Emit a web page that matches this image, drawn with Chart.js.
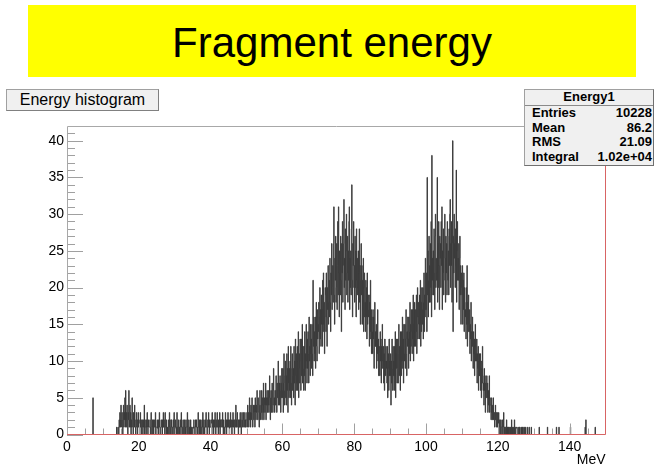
<!DOCTYPE html>
<html>
<head>
<meta charset="utf-8">
<title>Fragment energy</title>
<script src="https://cdn.jsdelivr.net/npm/chart.js@4.4.1/dist/chart.umd.min.js"></script>
<style>
  html, body { margin: 0; padding: 0; background: #fff; }
  body { width: 654px; height: 465px; position: relative; overflow: hidden;
         font-family: "Liberation Sans", Arial, sans-serif; color: #000; }
  #plot { position: absolute; left: 0; top: 0; z-index: 1; }
  .banner { position: absolute; left: 28px; top: 5px; width: 608px; height: 72px;
            background: #ffff00; text-align: center; font-size: 42px; line-height: 75px;
            overflow: visible; z-index: 2; }
  .htitle { position: absolute; left: 6px; top: 89px; width: 153px; height: 22px;
            box-sizing: border-box; border: 1px solid #a0a0a0; border-right-color: #808080;
            border-bottom-color: #808080; background: #f0f0f0; text-align: center;
            font-size: 16px; line-height: 20px; z-index: 2; white-space: nowrap; }
  .stats { position: absolute; left: 524px; top: 89px; width: 130px; height: 77px;
           box-sizing: border-box; border: 1px solid #a0a0a0; border-right-color: #707070;
           border-bottom-color: #707070; background: #f0f0f0; z-index: 2;
           font-size: 13px; font-weight: bold; }
  .stats .st-title { position: absolute; left: 0; right: 0; top: 0; height: 14.7px;
                     line-height: 14.7px; text-align: center; }
  .stats .st-sep { position: absolute; left: 0; right: 0; top: 15px; height: 0;
                   border-top: 1px solid #8a8a8a; }
  .stats .st-row { position: absolute; left: 7px; right: 1px; height: 14.7px;
                   line-height: 14.7px; display: flex; justify-content: space-between;
                   white-space: nowrap; }
</style>
</head>
<body>
<canvas id="plot" width="654" height="465"></canvas>
<div class="banner">Fragment energy</div>
<div class="htitle">Energy histogram</div>
<div class="stats">
  <div class="st-title">Energy1</div>
  <div class="st-sep"></div>
  <div class="st-row" style="top:16px"><span>Entries</span><span>10228</span></div>
  <div class="st-row" style="top:30.7px"><span>Mean</span><span>86.2</span></div>
  <div class="st-row" style="top:45.4px"><span>RMS</span><span>21.09</span></div>
  <div class="st-row" style="top:60.1px"><span>Integral</span><span>1.02e+04</span></div>
</div>
<script>
// Histogram "Energy1": counts per 0.1 MeV bin, one array per 10 MeV block.
const binWidth = 0.1;

const counts000 = [
  0,0,0,0,0,0,0,0,0,0,  0,0,0,0,0,0,0,0,0,0,
  0,0,0,0,0,0,0,0,0,0,  0,0,0,0,0,0,0,0,0,0,
  0,0,0,0,0,0,0,0,0,0,  0,0,0,0,0,0,0,0,0,0,
  0,0,0,0,0,0,0,0,0,0,  0,0,5,0,0,0,0,0,0,0,
  0,0,0,0,0,0,0,0,0,0,  0,0,0,0,0,0,0,0,0,0
];
const counts010 = [
  0,0,0,0,0,0,0,0,0,0,  0,0,0,0,0,0,0,0,0,0,
  0,0,0,0,0,0,0,0,0,0,  0,0,0,0,0,0,0,0,1,0,
  0,0,1,0,0,2,1,3,1,2,  4,2,1,3,2,0,2,4,1,3,
  2,5,1,6,2,3,1,4,2,0,  3,2,6,1,2,4,1,3,0,2,
  1,5,2,1,0,3,2,1,4,2,  1,0,2,3,1,2,0,1,3,1
];
const counts020 = [
  2,1,0,1,3,1,2,0,1,2,  1,0,2,1,1,4,0,2,1,1,
  0,2,1,3,1,0,1,2,2,1,  1,1,0,2,3,1,0,1,2,0,
  2,0,1,1,2,1,3,0,1,1,  1,2,0,1,0,2,1,3,1,0,
  0,1,2,1,1,0,2,1,3,1,  2,1,0,3,1,1,0,2,1,0,
  1,0,1,2,0,3,1,1,0,2,  1,2,0,1,1,0,2,1,3,1
];
const counts030 = [
  0,1,2,1,0,1,3,0,1,1,  2,0,1,0,1,2,1,0,3,1,
  1,1,0,2,1,0,1,2,0,1,  0,2,1,1,0,3,1,0,1,2,
  1,0,1,0,2,1,0,1,1,0,  0,1,0,2,1,1,0,1,2,1,
  2,1,0,1,0,3,1,1,0,2,  1,0,2,1,1,0,2,1,3,0,
  1,2,1,0,1,2,1,3,1,1,  0,1,2,1,3,1,0,2,1,1
];
const counts040 = [
  1,2,1,0,3,1,1,2,0,1,  2,1,3,1,0,2,1,1,3,1,
  1,0,2,1,1,3,0,2,1,2,  2,1,1,3,1,0,2,1,1,0,
  1,3,1,2,0,1,2,1,3,1,  2,1,0,2,1,3,1,2,1,0,
  1,2,3,1,2,1,0,2,1,3,  4,1,2,1,3,2,1,0,2,1,
  2,1,3,1,2,0,1,3,2,1,  1,3,2,1,2,3,1,2,1,2
];
const counts050 = [
  2,3,1,4,2,3,1,2,5,2,  3,1,4,2,3,5,2,1,3,4,
  2,4,3,1,5,3,2,4,3,6,  3,2,5,4,3,1,4,6,3,2,
  4,3,6,2,5,4,3,7,2,4,  5,3,4,7,2,5,4,6,3,5,
  4,6,3,5,8,4,2,5,6,3,  5,7,4,3,6,9,4,5,3,6,
  6,4,8,5,3,7,5,6,10,4, 5,7,4,8,6,3,7,5,9,6
];
const counts060 = [
  5,9,3,7,11,6,4,8,10,5,       8,4,11,6,9,3,12,7,5,9,
  6,10,5,12,7,4,9,11,6,8,      9,5,12,7,10,4,13,8,6,11,
  7,12,6,10,14,5,9,11,7,13,    10,6,13,8,11,15,7,12,9,6,
  12,8,14,6,11,9,15,10,7,13,   9,14,11,7,16,10,12,8,15,11,
  13,9,15,11,8,21,12,16,10,14, 11,16,9,14,18,12,10,17,13,15
];
const counts070 = [
  14,18,11,16,20,13,17,12,19,15,  17,12,21,15,22,14,18,11,16,20,
  19,14,22,16,12,20,17,23,15,18,  21,16,24,18,14,22,19,26,17,20,
  23,18,26,31,19,15,24,21,27,18,  20,26,17,23,29,19,31,22,16,25,
  24,19,27,21,14,26,22,29,18,23,  26,32,20,24,17,28,21,25,30,19,
  22,27,18,25,21,29,31,17,24,20,  25,19,28,34,21,16,26,23,29,20
];
const counts080 = [
  23,18,27,20,25,16,28,21,19,24,  20,25,17,22,28,18,23,15,21,26,
  19,23,15,21,17,24,14,20,22,16,  18,14,21,16,20,13,22,15,19,17,
  16,19,12,18,14,21,13,17,11,16,  14,11,17,13,16,9,15,18,12,14,
  12,15,9,14,11,17,10,13,8,12,    11,8,14,10,13,7,12,9,15,10,
  9,12,7,11,6,13,10,8,12,9,       10,7,12,5,9,11,6,13,8,10
];
const counts090 = [
  8,11,4,10,7,13,9,6,12,8,        10,6,12,8,14,5,11,9,13,7,
  9,13,7,11,15,8,12,10,6,14,      12,8,14,10,16,9,13,7,15,11,
  10,15,9,13,17,11,8,14,12,16,    13,9,16,11,14,18,10,15,12,17,
  14,11,17,13,19,10,15,12,18,14,  12,17,14,19,11,16,20,13,15,18,
  16,13,19,15,21,12,18,14,20,17,  15,20,13,18,22,14,19,16,24,17
];
const counts100 = [
  17,22,14,35,19,25,16,21,27,18,  23,18,26,20,29,16,38,21,24,19,
  25,19,28,22,17,27,30,20,24,21,  22,35,18,26,20,29,23,17,27,24,
  26,20,29,23,31,17,25,22,28,19,  21,28,30,24,18,27,22,26,19,29,
  27,21,25,19,28,23,30,32,20,26,  23,29,18,26,40,14,27,22,30,24,
  26,20,28,23,36,18,25,29,21,24,  21,26,17,24,27,19,23,15,22,20
];
const counts110 = [
  19,23,15,21,17,22,14,20,18,16,  17,13,20,15,23,12,18,14,19,15,
  14,17,11,15,13,18,10,14,12,16,  12,9,14,11,13,8,12,15,10,11,
  10,13,7,11,9,12,6,10,8,11,      8,11,6,9,5,10,7,12,8,6,
  7,4,9,6,8,3,7,5,6,8,            5,7,3,6,4,5,8,3,5,4,
  4,2,5,3,4,2,3,5,2,3,            3,1,2,4,2,3,1,2,3,1
];
const counts120 = [
  2,1,3,0,1,2,1,0,2,1,  1,0,2,1,0,1,3,1,0,1,
  0,1,1,0,2,0,1,0,1,0,  1,0,0,1,0,1,0,0,2,0,
  0,1,0,0,1,0,2,0,1,0,  0,0,1,0,0,0,1,0,0,1,
  0,1,0,0,0,1,0,0,1,0,  1,0,0,0,1,0,0,1,0,0,
  0,0,1,0,0,0,0,1,0,0,  0,0,0,1,0,0,0,0,0,0
];
const counts130 = [
  0,0,0,0,0,0,0,0,0,0,  0,0,0,0,0,1,0,0,0,0,
  0,0,0,0,0,0,0,0,0,0,  0,0,0,0,0,0,0,0,1,0,
  0,0,0,0,0,0,0,0,0,0,  0,0,0,0,0,0,0,0,0,0,
  0,0,0,1,0,0,0,0,0,0,  1,0,0,0,0,0,0,0,0,0,
  0,0,0,0,0,0,0,0,0,0,  0,0,0,0,0,0,0,0,0,0
];
const counts140 = [
  0,0,1,0,0,0,0,0,0,0,  0,0,0,0,0,0,0,0,0,0,
  0,0,0,0,0,0,0,0,0,0,  0,0,0,0,0,0,0,0,0,0,
  0,0,0,1,0,2,0,0,0,0,  0,0,0,0,0,0,0,0,0,0,
  0,0,0,0,0,0,0,0,0,0,  0,1,0,0,0,0,0,0,0,0,
  0,0,0,0,0,0,0,0,0,0,  0,0,0,0,0,0,0,0,0,0
];

// Block lower edges (MeV) paired with their counts
const blockStarts = [0, 10, 20, 30, 40, 50, 60, 70, 80, 90, 100, 110, 120, 130, 140];
const blockCounts = [counts000, counts010, counts020, counts030, counts040, counts050,
                     counts060, counts070, counts080, counts090, counts100, counts110,
                     counts120, counts130, counts140];

// Axis definitions
const xRange = [0, 150];
const yRange = [0, 42];
const xTickLabels = [0, 20, 40, 60, 80, 100, 120, 140];
const yTickLabels = [0, 5, 10, 15, 20, 25, 30, 35, 40];
const xMinorStep = 5;
const yMinorStep = 1;

// Step points at each bin's lower edge, closed at the upper range edge
const histPoints = [];
blockStarts.forEach((start, b) => {
  blockCounts[b].forEach((c, i) => {
    histPoints.push({ x: Math.round((start + i * binWidth) * 10) / 10, y: c });
  });
});
histPoints.push({ x: xRange[1], y: histPoints[histPoints.length - 1].y });

const FONT = '"Liberation Sans", Arial, sans-serif';
Chart.defaults.font.family = FONT;
Chart.defaults.color = '#000';

// Frame and inward tick marks in the ROOT style
const rootFrame = {
  id: 'rootFrame',
  afterDatasetsDraw(chart) {
    const { ctx, chartArea: a, scales: { x, y } } = chart;
    ctx.save();
    ctx.lineWidth = 1;

    ctx.strokeStyle = '#a0a0a0';
    ctx.beginPath();
    for (let v = yRange[0]; v <= yRange[1] - 1; v += yMinorStep) {
      const py = Math.round(y.getPixelForValue(v)) + 0.5;
      const len = (v % 5 === 0) ? 16 : 8;
      ctx.moveTo(a.left, py);
      ctx.lineTo(a.left + len, py);
    }
    for (let v = xRange[0] + xMinorStep; v < xRange[1]; v += xMinorStep) {
      const px = Math.round(x.getPixelForValue(v)) + 0.5;
      const len = (v % 20 === 0) ? 11 : 6;
      ctx.moveTo(px, a.bottom);
      ctx.lineTo(px, a.bottom - len);
    }
    ctx.stroke();

    // top and left edges
    ctx.strokeStyle = '#a8a8a8';
    ctx.beginPath();
    ctx.moveTo(Math.floor(a.left) + 0.5, Math.floor(a.bottom));
    ctx.lineTo(Math.floor(a.left) + 0.5, Math.floor(a.top) + 0.5);
    ctx.lineTo(Math.floor(a.right) + 0.5, Math.floor(a.top) + 0.5);
    ctx.stroke();

    // bottom and right edges
    ctx.strokeStyle = '#d86464';
    ctx.beginPath();
    ctx.moveTo(Math.floor(a.left), Math.floor(a.bottom) + 0.5);
    ctx.lineTo(Math.floor(a.right) + 0.5, Math.floor(a.bottom) + 0.5);
    ctx.lineTo(Math.floor(a.right) + 0.5, Math.floor(a.top) + 0.5);
    ctx.stroke();
    ctx.restore();
  }
};

new Chart(document.getElementById('plot'), {
  type: 'line',
  data: {
    datasets: [{
      label: 'Energy1',
      data: histPoints,
      stepped: 'before',
      borderColor: '#3c3c3c',
      borderWidth: 1,
      pointRadius: 0,
      fill: false,
      tension: 0
    }]
  },
  options: {
    responsive: false,
    animation: false,
    devicePixelRatio: 1,
    layout: { padding: { left: 0, top: 126, right: 48.5, bottom: 0 } },
    plugins: { legend: { display: false }, tooltip: { enabled: false }, title: { display: false } },
    scales: {
      x: {
        type: 'linear',
        min: xRange[0],
        max: xRange[1],
        grid: { display: false, drawTicks: false },
        border: { display: false },
        afterBuildTicks: s => { s.ticks = xTickLabels.map(v => ({ value: v })); },
        afterFit: s => { s.height = 30.5; },
        ticks: { autoSkip: false, maxRotation: 0, minRotation: 0, padding: 4,
                 font: { size: 14 }, color: '#000' },
        title: { display: true, text: 'MeV', align: 'end', font: { size: 14 },
                 color: '#000', padding: { top: 0, bottom: -4 } }
      },
      y: {
        type: 'linear',
        min: yRange[0],
        max: yRange[1],
        grid: { display: false, drawTicks: false },
        border: { display: false },
        afterBuildTicks: s => { s.ticks = yTickLabels.map(v => ({ value: v })); },
        afterFit: s => { s.width = 67; },
        ticks: { padding: 3, font: { size: 14 }, color: '#000' }
      }
    }
  },
  plugins: [rootFrame]
});
</script>
</body>
</html>
